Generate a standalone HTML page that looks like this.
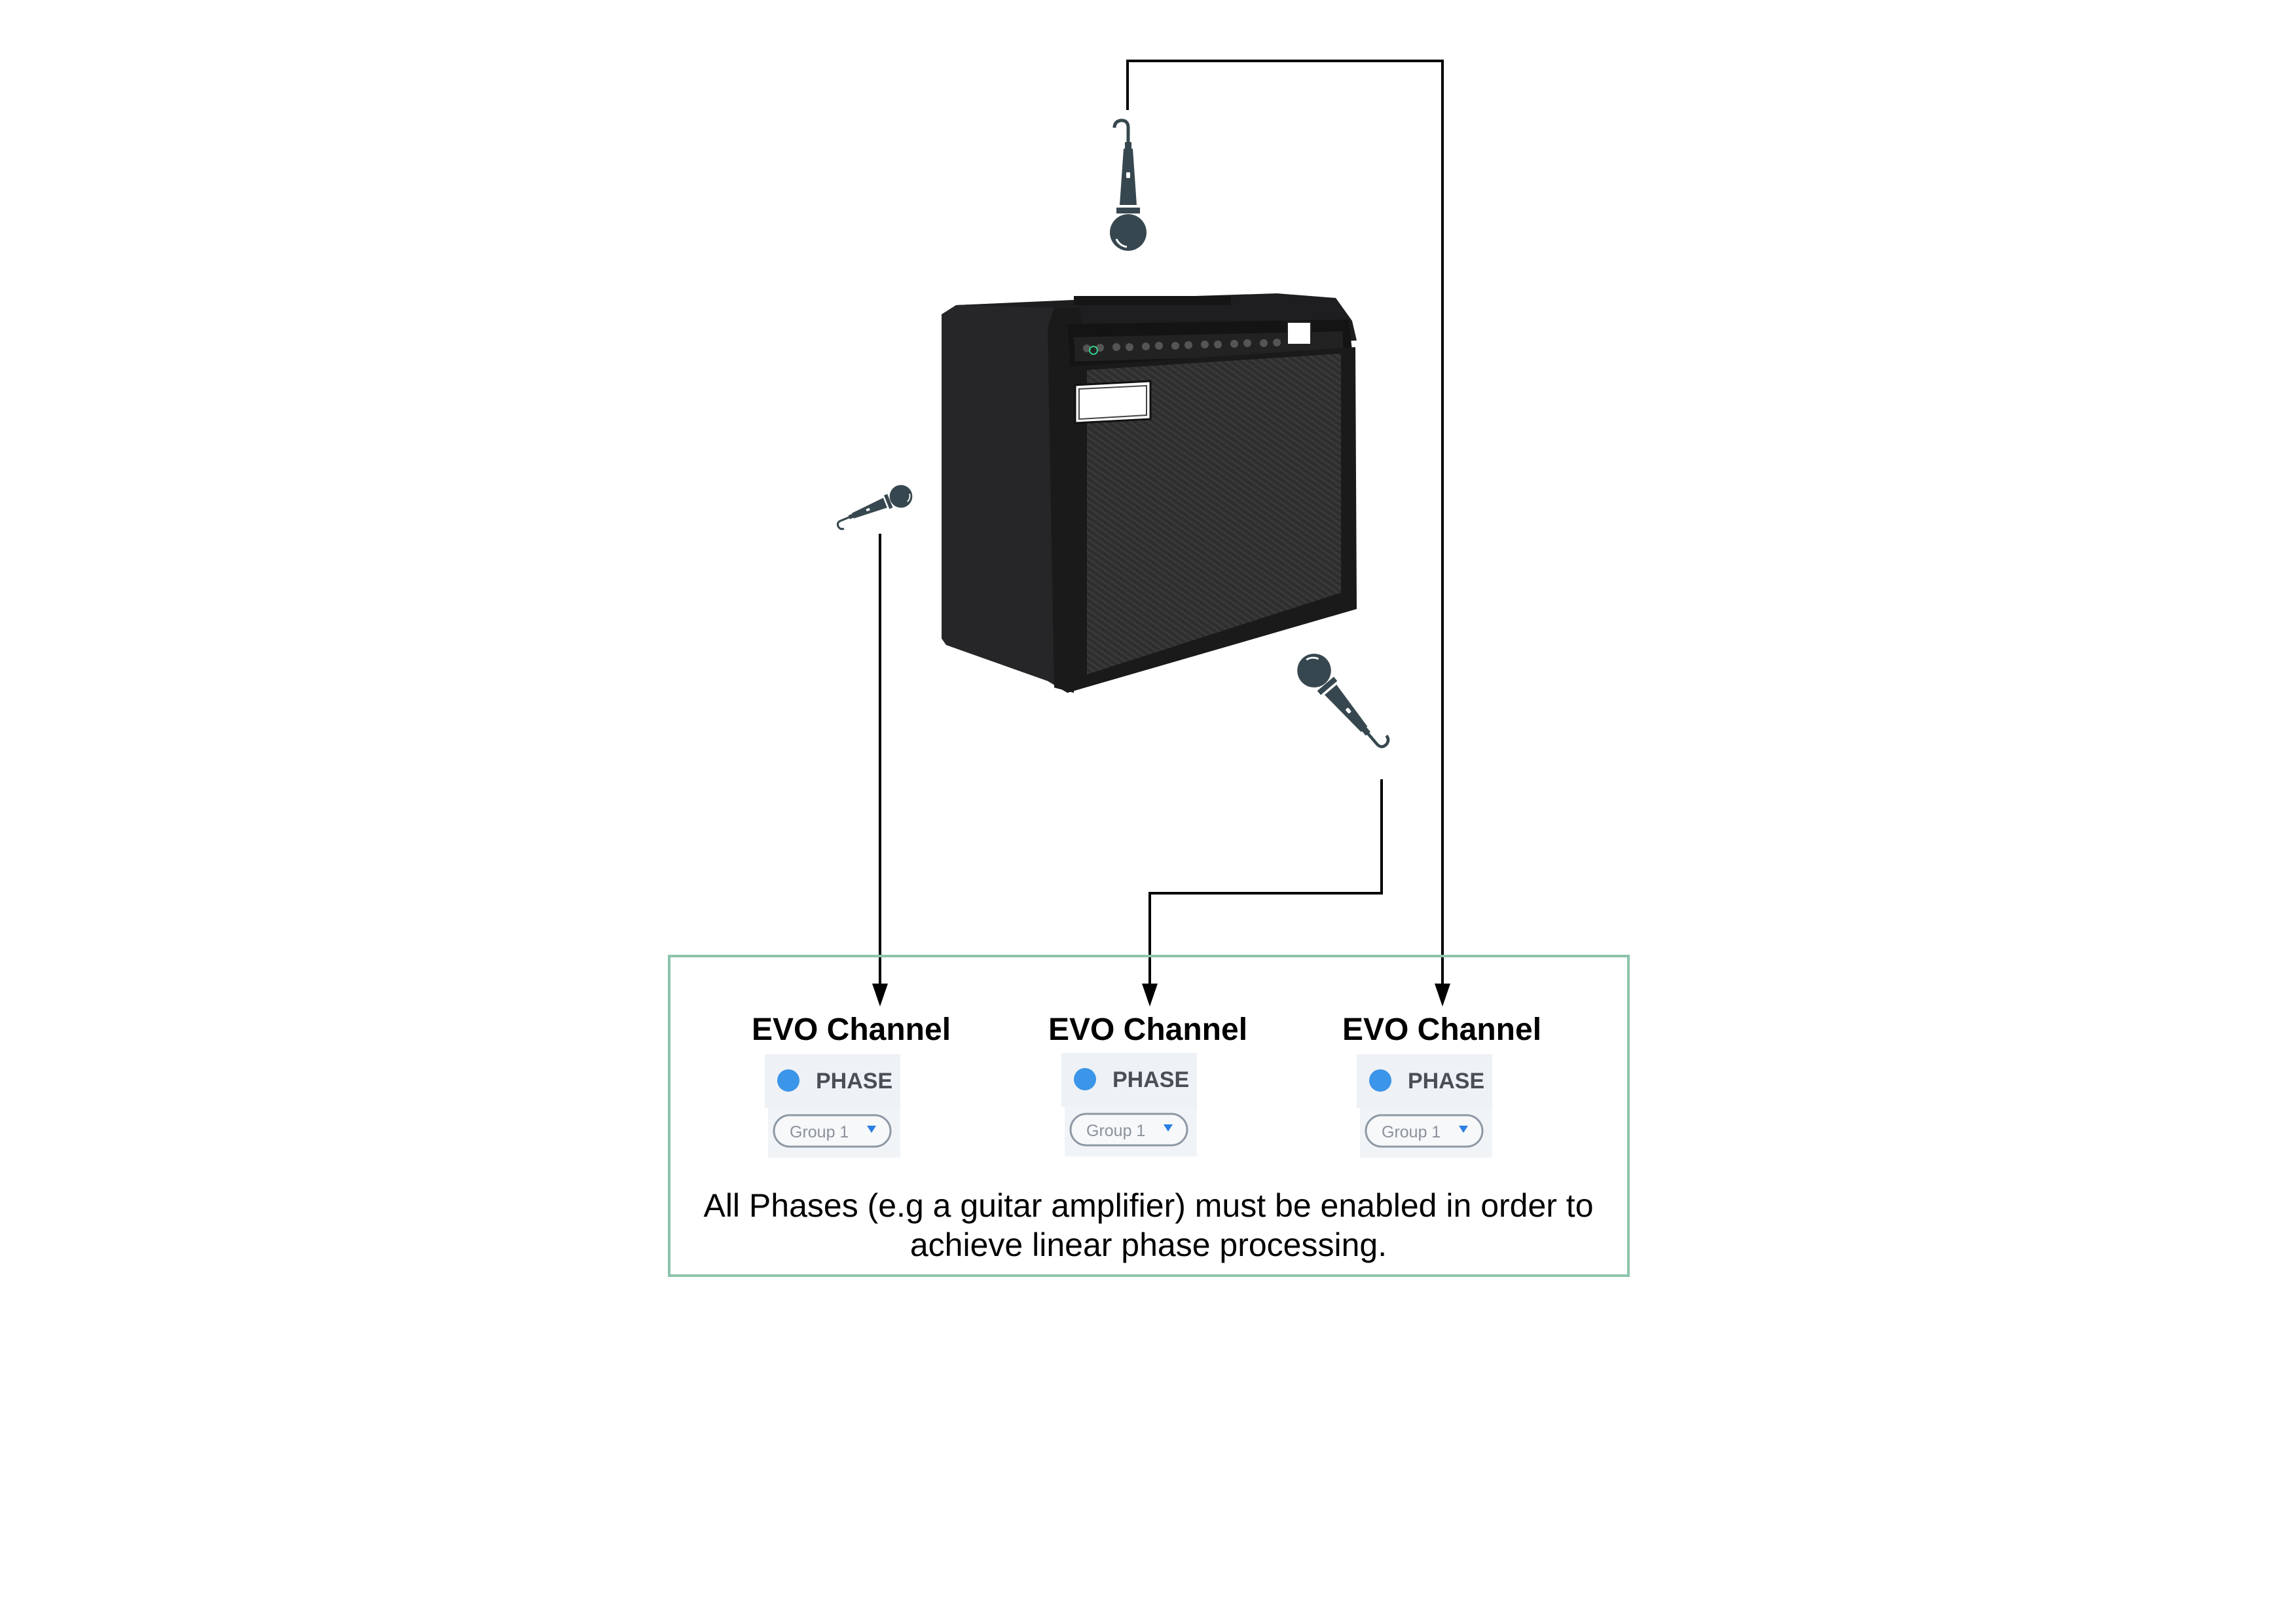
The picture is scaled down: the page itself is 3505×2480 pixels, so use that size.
<!DOCTYPE html>
<html><head><meta charset="utf-8"><style>
html,body{margin:0;padding:0;background:#fff;}
svg{display:block;}
</style></head><body>
<svg width="3505" height="2480" viewBox="0 0 3505 2480" xmlns="http://www.w3.org/2000/svg">
<defs>
<g id="mic">
  <circle cx="0" cy="0" r="28" fill="#37474f"/>
  <path d="M-18,10 A20,20 0 0 0 -2,22" stroke="#fff" stroke-width="3" fill="none"/>
  <rect x="-18" y="-38" width="36" height="9" fill="#37474f"/>
  <polygon points="-13,-42 13,-42 7,-128 -7,-128" fill="#37474f"/>
  <rect x="-3" y="-92" width="6" height="9" rx="2" fill="#fff"/>
  <rect x="-5" y="-138" width="10" height="12" fill="#37474f"/>
  <path d="M0,-136 L0,-160 Q0,-172 -12,-171 Q-21,-169 -21,-160" stroke="#37474f" stroke-width="5" fill="none"/>
</g>
<pattern id="grille" width="8" height="8" patternUnits="userSpaceOnUse" patternTransform="rotate(35)">
  <rect width="8" height="8" fill="#2e2e2e"/>
  <rect width="8" height="3" fill="#3a3a3a"/>
</pattern>
</defs>

<!-- Amp -->
<polygon points="1438,480 1460,466 1610,460 1640,520 1630,1058 1600,1040 1445,985 1438,975" fill="#262628"/>
<polygon points="1460,466 1640,458 1950,448 2040,455 2065,490 2072,520 1640,540 1610,470" fill="#1e1e20"/>
<rect x="1640" y="452" width="240" height="14" fill="#151515"/>
<polygon points="1610,470 1650,470 1660,560 1640,1058 1610,1050 1600,500" fill="#1a1a1a"/>
<polygon points="1630,495 2060,488 2066,545 1635,560" fill="#141414"/>
<polygon points="1640,515 2050,506 2052,540 1642,552" fill="#222"/>
<g fill="#555">
<circle cx="1660" cy="532" r="6"/><circle cx="1680" cy="531" r="6"/><circle cx="1705" cy="530" r="6"/><circle cx="1725" cy="530" r="6"/><circle cx="1750" cy="529" r="6"/><circle cx="1770" cy="528" r="6"/><circle cx="1795" cy="528" r="6"/><circle cx="1815" cy="527" r="6"/><circle cx="1840" cy="526" r="6"/><circle cx="1860" cy="526" r="6"/><circle cx="1885" cy="525" r="6"/><circle cx="1905" cy="524" r="6"/><circle cx="1930" cy="524" r="6"/><circle cx="1950" cy="523" r="6"/>
</g>
<circle cx="1670" cy="535" r="6" fill="none" stroke="#3c8" stroke-width="2"/>
<rect x="1966" y="492" width="36" height="34" fill="#fff" stroke="#222" stroke-width="2"/>
<polygon points="1630,560 2070,530 2072,930 1630,1058" fill="#1a1a1a"/>
<polygon points="1660,565 2048,540 2048,905 1660,1030" fill="url(#grille)"/>
<polygon points="1642,588 1757,582 1757,640 1642,646" fill="#fff" stroke="#111" stroke-width="3"/>
<polygon points="1648,594 1751,589 1751,634 1648,640" fill="#fff" stroke="#444" stroke-width="2"/>

<!-- Mics -->
<use href="#mic" transform="translate(1723,355)"/>
<use href="#mic" transform="translate(1376,758) rotate(-112) scale(0.62)"/>
<use href="#mic" transform="translate(2007,1024) rotate(139.5) scale(0.92)"/>

<!-- Connectors -->
<g stroke="#000" stroke-width="4" fill="none">
<polyline points="1722,168 1722,93 2203,93 2203,1505"/>
<polyline points="1344,815 1344,1505"/>
<polyline points="2110,1190 2110,1364 1756,1364 1756,1505"/>
</g>
<g fill="#000">
<polygon points="1332,1502 1356,1502 1344,1537"/>
<polygon points="1744,1502 1768,1502 1756,1537"/>
<polygon points="2191,1502 2215,1502 2203,1537"/>
</g>

<!-- Box -->
<rect x="1022" y="1460" width="1465" height="488" fill="none" stroke="#8cc3ab" stroke-width="4"/>

<g font-family="Liberation Sans, sans-serif">
<g font-size="48" font-weight="bold" text-anchor="middle" fill="#000">
<text x="1300" y="1588">EVO Channel</text>
<text x="1753" y="1588">EVO Channel</text>
<text x="2202" y="1588">EVO Channel</text>
</g>
<g id="w1" transform="translate(1168,1610)">
  <rect x="0" y="0" width="207" height="82" fill="#eef1f5"/>
  <rect x="5" y="82" width="202" height="76" fill="#f1f4f7"/>
  <circle cx="36" cy="40" r="17" fill="#3b95e8"/>
  <text x="78" y="52" font-size="34" font-weight="bold" fill="#4a4f55">PHASE</text>
  <rect x="14" y="93" width="178" height="48" rx="24" fill="#f7f8fa" stroke="#8d99a4" stroke-width="3"/>
  <text x="38" y="127" font-size="25" fill="#8a929a">Group 1</text>
  <polygon points="156,109 170,109 163,120" fill="#2b7fe0"/>
</g>
<use href="#w1" transform="translate(453,-2)"/>
<use href="#w1" transform="translate(904,0)"/>
<g font-size="50" text-anchor="middle" fill="#000">
<text x="1754" y="1858">All Phases (e.g a guitar amplifier) must be enabled in order to</text>
<text x="1754" y="1918">achieve linear phase processing.</text>
</g>
</g>
</svg>
</body></html>
